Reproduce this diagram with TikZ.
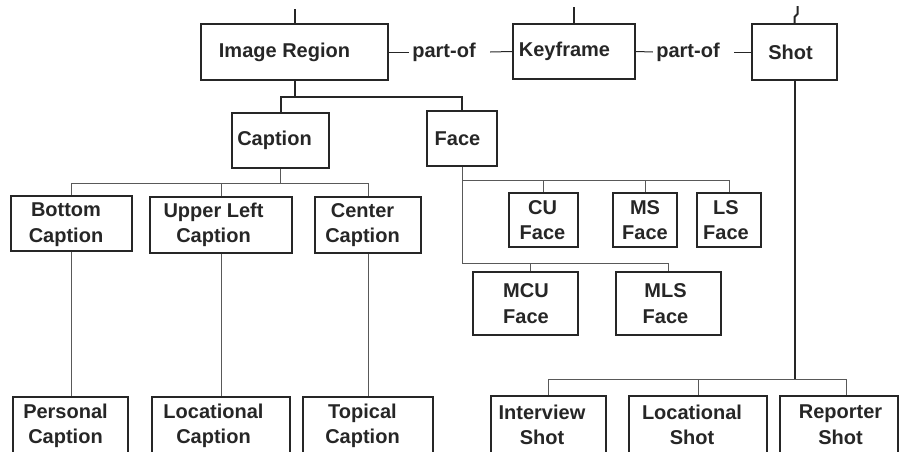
\documentclass[tikz,border=0pt]{standalone}
\usepackage{fontspec}
\setmainfont{Liberation Sans}
\usepackage{tikz}
\usetikzlibrary{positioning, shapes}
\usepackage{xcolor}

\tikzset{
    mainbox/.style={draw=black!85, line width=1pt, rectangle, inner sep=0pt},
    subbox/.style={draw=black!85, line width=0.65pt, rectangle, inner sep=0pt},
    boxtext/.style={align=center, inner sep=0pt},
    mainline/.style={draw=black!85, line width=1pt},
    subline/.style={draw=black!65, line width=0.5pt},
    relline/.style={draw=black!85, line width=0.5pt},
    relabel/.style={inner xsep=1.5pt, inner ysep=0pt}
}

\begin{document}
\begin{tikzpicture}[x=0.5pt, y=-0.5pt, font=\fontsize{10}{12.8}\selectfont\bfseries, text=black!85]
    \clip (0,0) rectangle (900,451);
    \useasboundingbox (0,0) rectangle (900,451);

    % Top level boxes
    \node[mainbox, minimum width=93.5pt, minimum height=28pt] (region) at (294.5,52) {};
    \node[mainbox, minimum width=61pt, minimum height=27.5pt] (keyframe) at (574,51.5) {};
    \node[mainbox, minimum width=42.5pt, minimum height=28pt] (shot) at (794.5,52) {};
    \node[boxtext] (regiontext) at (284.5,52) {Image Region};
    \node[boxtext] (keyframetext) at (564.5,51.5) {Keyframe};
    \node[boxtext] (shottext) at (790.5,52) {Shot};

    % part-of relations
    \node[relabel] (partof1) at (444,52) {part-of};
    \node[relabel] (partof2) at (688,52) {part-of};
    \draw[relline] (region.east) -- (partof1.west);
    \draw[relline] ([xshift=5.5pt]partof1.east) -- (keyframe.west);
    \draw[relline] (keyframe.east) -- (partof2.west);
    \draw[relline] ([xshift=5.5pt]partof2.east) -- (shot.west);

    % Stubs above the top boxes
    \draw[mainline] (region.north) -- ++(0,-14);
    \draw[mainline] (keyframe.north) -- ++(0,-16);
    \draw[mainline] (shot.north) -- ++(0,-6) -- ++(3,-3) -- ++(0,-8);

    % Caption and Face
    \node[mainbox, minimum width=48.5pt, minimum height=27.5pt] (caption) at (280.5,140.5) {};
    \node[mainbox, minimum width=35pt, minimum height=27.5pt] (face) at (462,138.5) {};
    \node[boxtext] (captiontext) at (274.5,140.5) {Caption};
    \node[boxtext] (facetext) at (457.5,138.5) {Face};
    \draw[mainline] (region.south) -- ++(0,16) -| (caption.north);
    \draw[mainline] (region.south) -- ++(0,16) -| (face.north);

    % Caption kinds
    \node[subbox, minimum width=60.5pt, minimum height=27.5pt] (bottomcap) at (71.5,223.5) {};
    \node[subbox, minimum width=71pt, minimum height=28pt] (upperleft) at (221,225) {};
    \node[subbox, minimum width=53pt, minimum height=28pt] (centercap) at (368,225) {};
    \node[boxtext] (bottomcaptext) at (66,224.5) {Bottom\\Caption};
    \node[boxtext] (upperlefttext) at (213.5,225) {Upper Left\\Caption};
    \node[boxtext] (centercaptext) at (362.5,225) {Center\\Caption};
    \draw[subline] (caption.south) -- ++(0,14) -| (bottomcap.north);
    \draw[subline] (caption.south) -- ++(0,14) -| (upperleft.north);
    \draw[subline] (caption.south) -- ++(0,14) -| (centercap.north);

    % Caption topics
    \node[subbox, minimum width=57.5pt, minimum height=30pt] (personal) at (70.5,427) {};
    \node[subbox, minimum width=69pt, minimum height=30pt] (loccap) at (221,427) {};
    \node[subbox, minimum width=65pt, minimum height=30pt] (topical) at (368,427) {};
    \node[boxtext] (personaltext) at (65.5,426) {Personal\\Caption};
    \node[boxtext] (loccaptext) at (213.5,426) {Locational\\Caption};
    \node[boxtext] (topicaltext) at (362.5,426) {Topical\\Caption};
    \draw[subline] (bottomcap.south) -- (bottomcap.south |- personal.north);
    \draw[subline] (upperleft.south) -- (loccap.north);
    \draw[subline] (centercap.south) -- (topical.north);

    % Face shots
    \node[subbox, minimum width=34.5pt, minimum height=27pt] (cuface) at (543.5,220) {};
    \node[subbox, minimum width=32pt, minimum height=27pt] (msface) at (645,220) {};
    \node[subbox, minimum width=32pt, minimum height=27pt] (lsface) at (729,220) {};
    \node[subbox, minimum width=52.5pt, minimum height=31.5pt] (mcuface) at (525.5,303.5) {};
    \node[subbox, minimum width=52.5pt, minimum height=31.5pt] (mlsface) at (668.5,303.5) {};
    \node[boxtext] (cufacetext) at (542.5,220) {CU\\Face};
    \node[boxtext] (msfacetext) at (645,220) {MS\\Face};
    \node[boxtext] (lsfacetext) at (726,220) {LS\\Face};
    \node[boxtext] (mcufacetext) at (526,303.5) {MCU\\Face};
    \node[boxtext] (mlsfacetext) at (665.5,303.5) {MLS\\Face};
    \draw[subline] (face.south) -- ++(0,13) -| (cuface.north);
    \draw[subline] (face.south) -- ++(0,13) -| (msface.north);
    \draw[subline] (face.south) -- ++(0,13) -| (lsface.north);
    \draw[subline] (face.south) -- ++(0,96) -| ([xshift=2.25pt]mcuface.north);
    \draw[subline] (face.south) -- ++(0,96) -| (mlsface.north);

    % Shot kinds
    \node[subbox, minimum width=57.5pt, minimum height=30pt] (interview) at (548.5,426) {};
    \node[subbox, minimum width=69pt, minimum height=30pt] (locshot) at (698,426) {};
    \node[subbox, minimum width=59pt, minimum height=30pt] (reporter) at (839,426) {};
    \node[boxtext] (interviewtext) at (542,425) {Interview\\Shot};
    \node[boxtext] (locshottext) at (692,425) {Locational\\Shot};
    \node[boxtext] (reportertext) at (840.5,425) {Reporter\\Shot};
    \draw[mainline] (shot.south) -- ++(0,298) coordinate (shotjoin);
    \draw[subline] (shotjoin) -| (interview.north);
    \draw[subline] (shotjoin) -| (locshot.north);
    \draw[subline] (shotjoin) -| ([xshift=3.5pt]reporter.north);
\end{tikzpicture}
\end{document}
